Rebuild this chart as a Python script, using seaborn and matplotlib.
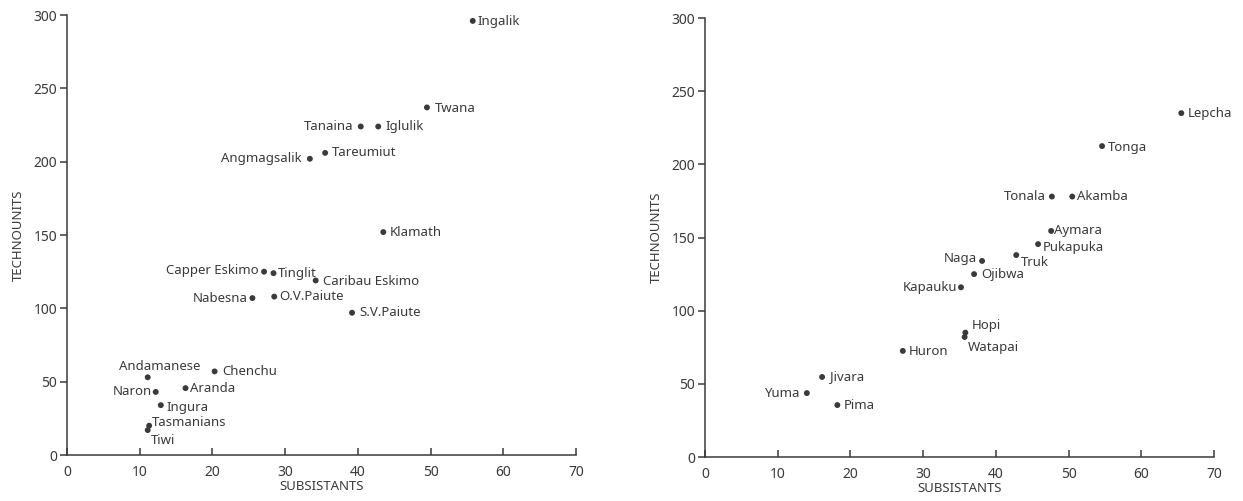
import matplotlib
matplotlib.use("Agg")
import matplotlib.pyplot as plt
import seaborn as sns
import pandas as pd

# Food-getting societies, left panel
left_names = ["Ingalik", "Twana", "Tanaina", "Iglulik", "Angmagsalik", "Tareumiut",
              "Klamath", "Capper Eskimo", "Tinglit", "Caribau Eskimo", "Nabesna",
              "O.V.Paiute", "S.V.Paiute", "Andamanese", "Chenchu", "Naron", "Aranda",
              "Ingura", "Tasmanians", "Tiwi"]
left_subsistants = [55.8, 49.5, 40.4, 42.8, 33.4, 35.5, 43.5, 27.1, 28.4, 34.2, 25.5,
                    28.5, 39.2, 11.1, 20.3, 12.2, 16.3, 12.9, 11.3, 11.1]
left_technounits = [296, 237, 224, 224, 202, 206, 152, 125, 124, 119, 107,
                    108, 97, 53, 57, 43, 45.6, 34, 20, 17]

# Food-producing societies, right panel
right_names = ["Lepcha", "Tonga", "Tonala", "Akamba", "Aymara", "Pukapuka", "Truk",
               "Naga", "Ojibwa", "Kapauku", "Hopi", "Watapai", "Huron", "Jivara",
               "Yuma", "Pima"]
right_subsistants = [65.5, 54.6, 47.7, 50.5, 47.6, 45.8, 42.8, 38.1, 37.0, 35.2,
                     35.8, 35.7, 27.2, 16.1, 14.0, 18.2]
right_technounits = [235, 212.5, 178, 178, 154.5, 145.5, 138, 134, 125, 116,
                     85, 82, 72.5, 54.7, 43.7, 35.5]

x_ticks = [0, 10, 20, 30, 40, 50, 60, 70]
y_ticks = [0, 50, 100, 150, 200, 250, 300]

# label placement: (dx px, dy px, horizontal alignment)
left_offsets = {
    "Ingalik": (5, -1, "left"), "Twana": (8, -1, "left"), "Tanaina": (-7, 0, "right"),
    "Iglulik": (7, 0, "left"), "Angmagsalik": (-8, 0, "right"), "Tareumiut": (7, 0, "left"),
    "Klamath": (6, 0, "left"), "Capper Eskimo": (-5, 1, "right"), "Tinglit": (4, 0, "left"),
    "Caribau Eskimo": (7, -1, "left"), "Nabesna": (-5, 0, "right"),
    "O.V.Paiute": (5, 0, "left"), "S.V.Paiute": (7, 0, "left"),
    "Andamanese": (-29, 11, "left"), "Chenchu": (8, 0, "left"), "Naron": (-4, 0, "right"),
    "Aranda": (4, 0, "left"), "Ingura": (6, -2, "left"), "Tasmanians": (3, 3, "left"),
    "Tiwi": (3, -10, "left"),
}
right_offsets = {
    "Lepcha": (6, 0, "left"), "Tonga": (6, -1, "left"), "Tonala": (-6, 0, "right"),
    "Akamba": (5, 0, "left"), "Aymara": (3, 0, "left"), "Pukapuka": (5, -3, "left"),
    "Truk": (5, -7, "left"), "Naga": (-5, 2, "right"), "Ojibwa": (7, 0, "left"),
    "Kapauku": (-4, 0, "right"), "Hopi": (6, 7, "left"), "Watapai": (3, -10, "left"),
    "Huron": (6, -1, "left"), "Jivara": (8, 0, "left"), "Yuma": (-7, 0, "right"),
    "Pima": (6, 0, "left"),
}

sns.set_style("ticks")
plt.rcParams["font.family"] = ["Noto Sans", "DejaVu Sans"]
INK = "#3a3a3a"

fig = plt.figure(figsize=(12.43, 5.01), dpi=100)
ax_left = fig.add_axes([0.0539, 0.0918, 0.4095, 0.8782])
ax_right = fig.add_axes([0.5672, 0.0878, 0.4095, 0.8762])


def draw_panel(ax, names, xs, ys, offsets):
    df = pd.DataFrame({"name": names, "subsistants": xs, "technounits": ys})
    sns.scatterplot(data=df, x="subsistants", y="technounits", ax=ax, color=INK,
                    s=18, edgecolor="none", clip_on=False, legend=False)
    for _, row in df.iterrows():
        dx, dy, ha = offsets[row["name"]]
        ax.annotate(row["name"], (row["subsistants"], row["technounits"]),
                    xytext=(dx, dy), textcoords="offset pixels", ha=ha, va="center",
                    fontsize=9.5, color=INK)
    ax.set_xlim(0, 70)
    ax.set_ylim(0, 300)
    ax.set_xticks(x_ticks)
    ax.set_yticks(y_ticks)
    ax.set_xticklabels([str(t) for t in x_ticks], fontsize=10, color=INK)
    ax.set_yticklabels([str(t) for t in y_ticks], fontsize=10, color=INK)
    ax.tick_params(axis="x", direction="in", length=5, width=1.1, color=INK, pad=7)
    ax.tick_params(axis="y", direction="out", length=5, width=1.1, color=INK, pad=2)
    for side in ("top", "right"):
        ax.spines[side].set_visible(False)
    for side in ("left", "bottom"):
        ax.spines[side].set_color(INK)
        ax.spines[side].set_linewidth(1.1)
    ax.set_xlabel("SUBSISTANTS", fontsize=9.5, color=INK, labelpad=0)
    ax.set_ylabel("TECHNOUNITS", fontsize=9.5, color=INK, labelpad=6)


draw_panel(ax_left, left_names, left_subsistants, left_technounits, left_offsets)
draw_panel(ax_right, right_names, right_subsistants, right_technounits, right_offsets)

fig.savefig("out.png", dpi=100, facecolor="white")
